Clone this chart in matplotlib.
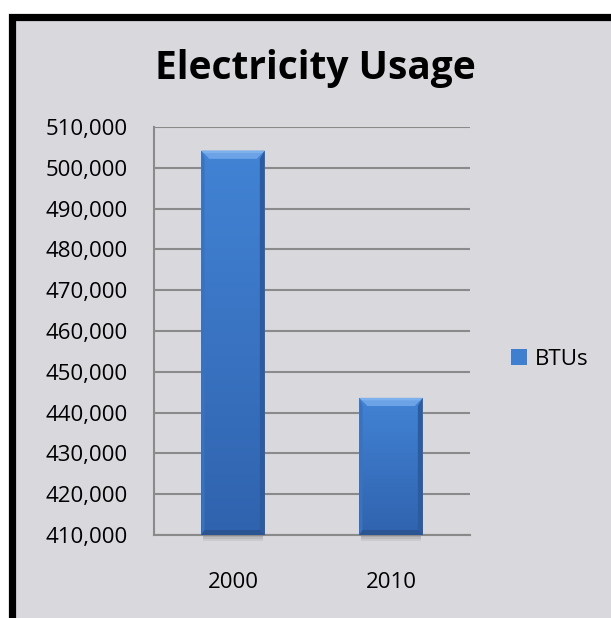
import numpy as np
import matplotlib
matplotlib.use('Agg')
import matplotlib.pyplot as plt
from matplotlib.patches import Rectangle, Polygon
from matplotlib.ticker import FuncFormatter

years = ['2000', '2010']
btus = [504200, 443600]
series_name = 'BTUs'
title = 'Electricity Usage'

plt.rcParams['font.family'] = ['Open Sans', 'DejaVu Sans']

W, H = 611, 618
fig = plt.figure(figsize=(W / 100, H / 100), dpi=100, facecolor='white')

# gray panel with thick black frame (right/bottom run off the picture)
frame = Rectangle((11.5 / W, -0.2), 1.5, 1 - 16.5 / H + 0.2, transform=fig.transFigure,
                  facecolor='#D9D8DD', edgecolor='black', linewidth=5.2, zorder=-10)
fig.add_artist(frame)

ax = fig.add_axes([154 / W, 1 - 535 / H, 316 / W, 408 / H])
ax.set_facecolor('none')

bars = ax.bar(range(len(years)), btus, width=0.4, color='#3F7FD0',
              label=series_name, zorder=3)
ax.set_yticks(np.arange(410000, 510001, 10000))
ax.yaxis.set_major_formatter(FuncFormatter(lambda v, p: f'{int(v):,}'))
ax.set_xticks(range(len(years)))
ax.set_xticklabels(years)

ax.grid(axis='y', color='#8A8A8A', linewidth=1.5, zorder=1)
ax.set_axisbelow(True)
for s in ['top', 'right']:
    ax.spines[s].set_visible(False)
for s in ['left', 'bottom']:
    ax.spines[s].set_color('#8A8A8A')
    ax.spines[s].set_linewidth(1.5)
ax.tick_params(axis='both', length=0, labelsize=16, colors='black')
ax.tick_params(axis='y', pad=19)
ax.tick_params(axis='x', pad=27)

# bevelled look on each bar
grad = np.linspace(0, 1, 256).reshape(-1, 1)
cmap = matplotlib.colors.LinearSegmentedColormap.from_list('b', ['#3063AE', '#4283D5'])
ylo = 410000
dx, dy = 0.05, 2000
for b in bars:
    x0 = b.get_x()
    w = b.get_width()
    top = b.get_height()
    x1 = x0 + w
    b.set_y(ylo)
    b.set_height(top - ylo)
    im = ax.imshow(grad, extent=[x0, x1, ylo, top], origin='lower', cmap=cmap,
                   aspect='auto', zorder=3.5)
    im.set_clip_path(b)
    # soft shadow under the bar
    for k, a in enumerate([0.25, 0.2, 0.15]):
        ax.add_patch(Rectangle((x0 + 0.01, ylo - 500 * (k + 1)), w - 0.02, 500 * (k + 1),
                               facecolor='#808080', alpha=a, edgecolor='none',
                               clip_on=False, zorder=2))
    ax.add_patch(Polygon([(x0, top), (x1, top), (x1 - dx, top - dy), (x0 + dx, top - dy)],
                         closed=True, facecolor='#6BA3E6', edgecolor='none', zorder=4))
    ax.add_patch(Polygon([(x0, top), (x1, top), (x1 - dx * 0.3, top - dy * 0.3), (x0 + dx * 0.3, top - dy * 0.3)],
                         closed=True, facecolor='#7DB1EC', edgecolor='none', zorder=4.1))
    ax.add_patch(Polygon([(x1, top), (x1, ylo), (x1 - dx * 0.6, ylo + dy * 0.6), (x1 - dx * 0.6, top - dy)],
                         closed=True, facecolor='#2D5B9E', edgecolor='none', zorder=4))
    ax.add_patch(Polygon([(x0, top), (x0, ylo), (x0 + dx * 0.4, ylo + dy * 0.6), (x0 + dx * 0.4, top - dy)],
                         closed=True, facecolor='#3A72BE', edgecolor='none', zorder=4))
    ax.add_patch(Polygon([(x0, ylo), (x1, ylo), (x1 - dx * 0.6, ylo + dy * 0.6), (x0 + dx * 0.4, ylo + dy * 0.6)],
                         closed=True, facecolor='#2A5492', edgecolor='none', zorder=4))
ax.set_xlim(-0.5, len(years) - 0.5)
ax.set_ylim(410000, 510000)

fig.text(315 / W, 1 - 79.3 / H, title, ha='center', va='baseline',
         fontsize=28, fontweight='bold', color='black')

ax.legend(handles=[bars[0]], labels=[series_name], loc='center left',
          bbox_to_anchor=(511 / W, 1 - 359.5 / H), bbox_transform=fig.transFigure,
          frameon=False, fontsize=16, handlelength=0.72, handleheight=0.72,
          handletextpad=0.35, borderpad=0, borderaxespad=0)

fig.savefig('out.png', dpi=100, facecolor='white')
